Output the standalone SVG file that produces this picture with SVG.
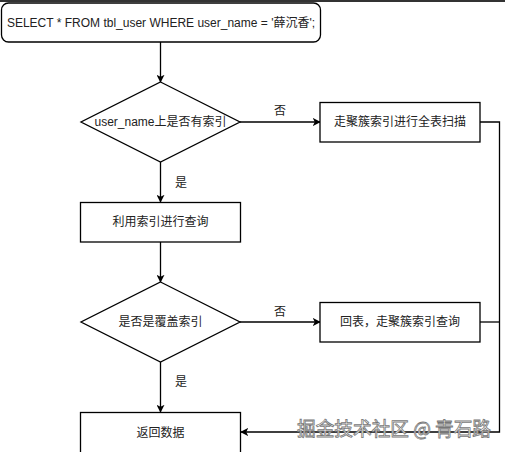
<svg xmlns="http://www.w3.org/2000/svg" width="505" height="452" viewBox="0 0 505 452">
<defs>
<style>
.n{fill:#fff;stroke:#000;stroke-width:1.3}
.t{font-family:"Liberation Sans","Noto Sans CJK SC",sans-serif;font-size:12px;fill:#222;text-anchor:middle;dominant-baseline:central}
.c{fill:none;stroke:#000;stroke-width:1.3}
.wm{font-family:"Noto Sans CJK SC",sans-serif;font-size:19px;fill:#fff;stroke:#777;stroke-width:0.8;text-anchor:start}
</style>
<marker id="a" viewBox="0 0 10 10" refX="9" refY="5" markerWidth="8" markerHeight="8" markerUnits="userSpaceOnUse" orient="auto">
<path d="M0,0 L10,5 L0,10 L2.5,5 Z" fill="#000"/>
</marker>
</defs>
<rect width="505" height="452" fill="#fff"/>
<rect x="0" y="0" width="505" height="2" fill="#333"/>
<g id="connectors">
<path class="c" d="M160.5,42 V82" marker-end="url(#a)"/>
<path class="c" d="M240,122 H320" marker-end="url(#a)"/>
<path class="c" d="M160.5,162 V202" marker-end="url(#a)"/>
<path class="c" d="M160.5,242 V282" marker-end="url(#a)"/>
<path class="c" d="M240,322 H320" marker-end="url(#a)"/>
<path class="c" d="M160.5,362 V412" marker-end="url(#a)"/>
<path class="c" d="M480,122 H499.5 V432 H241" marker-end="url(#a)"/>
<path class="c" d="M480,322 H499.5"/>
<text class="t" x="280" y="111">否</text>
<text class="t" x="280" y="312">否</text>
<text class="t" x="181" y="183">是</text>
<text class="t" x="181" y="382">是</text>
</g>
<g id="start">
<rect class="n" x="1.5" y="3" width="319" height="39" rx="7"/>
<text class="t" x="161" y="22.5">SELECT * FROM tbl_user WHERE user_name = '薛沉香';</text>
</g>
<g id="d1">
<polygon class="n" points="160.5,82 240,122 160.5,162 81,122"/>
<text class="t" x="160.5" y="122">user_name上是否有索引</text>
</g>
<g id="b1">
<rect class="n" x="320" y="102.5" width="160" height="39.5"/>
<text class="t" x="400" y="122">走聚簇索引进行全表扫描</text>
</g>
<g id="b2">
<rect class="n" x="80.5" y="202.5" width="160" height="39.5"/>
<text class="t" x="160.5" y="222">利用索引进行查询</text>
</g>
<g id="d2">
<polygon class="n" points="160.5,282 240,322 160.5,362 81,322"/>
<text class="t" x="160.5" y="322">是否是覆盖索引</text>
</g>
<g id="b3">
<rect class="n" x="320" y="302.5" width="160" height="39.5"/>
<text class="t" x="400" y="322">回表，走聚簇索引查询</text>
</g>
<g id="b4">
<rect class="n" x="80.5" y="412.5" width="160" height="45"/>
<text class="t" x="160.5" y="433">返回数据</text>
</g>
<text class="wm" x="297" y="436" textLength="194" lengthAdjust="spacingAndGlyphs">掘金技术社区 @ 青石路</text>
</svg>
